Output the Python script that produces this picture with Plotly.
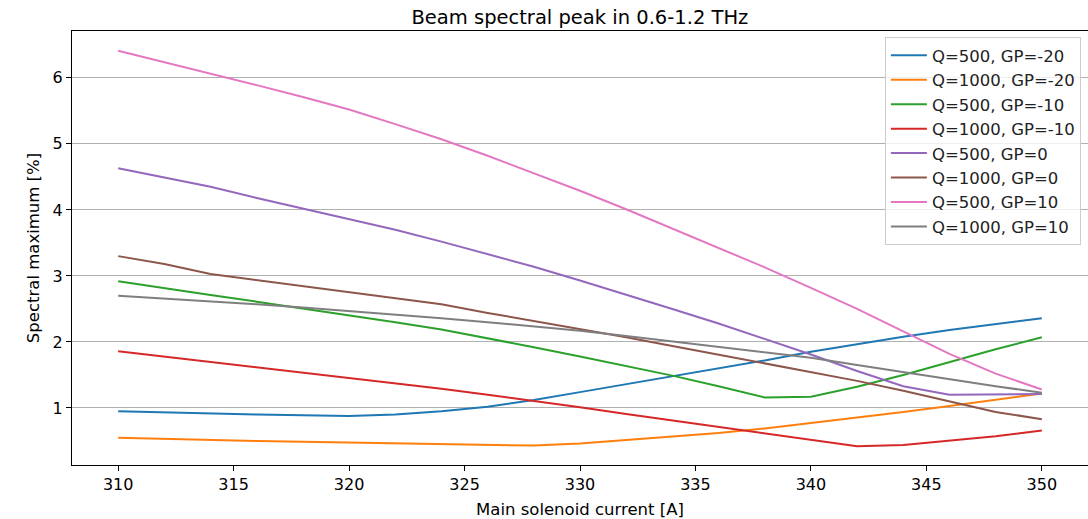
import plotly.graph_objects as go

# Main solenoid current [A]
current = [310, 312, 314, 316, 318, 320, 322, 324, 326, 328, 330,
           332, 334, 336, 338, 340, 342, 344, 346, 348, 350]

# Spectral maximum [%] per (bunch charge Q, gun phase GP)
q500_gpm20 = [0.95, 0.93, 0.92, 0.90, 0.89, 0.88, 0.90, 0.95, 1.02, 1.12, 1.24,
              1.36, 1.47, 1.59, 1.72, 1.85, 1.97, 2.08, 2.18, 2.27, 2.36]
q1000_gpm20 = [0.55, 0.53, 0.52, 0.50, 0.49, 0.48, 0.47, 0.45, 0.44, 0.43, 0.46,
               0.51, 0.56, 0.62, 0.69, 0.77, 0.85, 0.94, 1.03, 1.13, 1.22]
q500_gpm10 = [2.92, 2.81, 2.71, 2.61, 2.51, 2.41, 2.30, 2.19, 2.06, 1.92, 1.78,
              1.64, 1.49, 1.33, 1.16, 1.17, 1.32, 1.50, 1.70, 1.89, 2.07]
q1000_gpm10 = [1.86, 1.78, 1.70, 1.62, 1.54, 1.46, 1.38, 1.29, 1.20, 1.11, 1.01,
               0.91, 0.81, 0.71, 0.61, 0.51, 0.42, 0.44, 0.50, 0.57, 0.66]
q500_gp0 = [4.63, 4.49, 4.35, 4.18, 4.02, 3.86, 3.70, 3.52, 3.33, 3.14, 2.93,
            2.72, 2.50, 2.28, 2.05, 1.81, 1.56, 1.33, 1.20, 1.21, 1.21]
q1000_gp0 = [3.30, 3.18, 3.03, 2.94, 2.85, 2.75, 2.66, 2.57, 2.44, 2.32, 2.20,
             2.07, 1.94, 1.81, 1.68, 1.54, 1.41, 1.26, 1.10, 0.94, 0.83]
q500_gp10 = [6.41, 6.24, 6.06, 5.89, 5.71, 5.52, 5.30, 5.07, 4.82, 4.56, 4.29,
             4.01, 3.72, 3.43, 3.13, 2.82, 2.50, 2.16, 1.82, 1.52, 1.28]
q1000_gp10 = [2.70, 2.66, 2.61, 2.57, 2.52, 2.47, 2.42, 2.36, 2.30, 2.24, 2.17,
              2.09, 2.01, 1.93, 1.85, 1.76, 1.65, 1.54, 1.43, 1.33, 1.23]

series_names = ["Q=500, GP=-20", "Q=1000, GP=-20", "Q=500, GP=-10", "Q=1000, GP=-10",
                "Q=500, GP=0", "Q=1000, GP=0", "Q=500, GP=10", "Q=1000, GP=10"]
series_values = [q500_gpm20, q1000_gpm20, q500_gpm10, q1000_gpm10,
                 q500_gp0, q1000_gp0, q500_gp10, q1000_gp10]
colors = ["#1f77b4", "#ff7f0e", "#2ca02c", "#d62728",
          "#9467bd", "#8c564b", "#e377c2", "#7f7f7f"]

x_ticks = [310, 315, 320, 325, 330, 335, 340, 345, 350]
y_ticks = [1, 2, 3, 4, 5, 6]

font_family = "DejaVu Sans, sans-serif"

fig = go.Figure()
for name, vals, col in zip(series_names, series_values, colors):
    fig.add_trace(go.Scatter(x=current, y=vals, mode="lines", name=name,
                             line=dict(color=col, width=2)))

fig.update_layout(
    width=1088, height=519,
    margin=dict(l=72, r=0, t=31, b=54),
    paper_bgcolor="white", plot_bgcolor="white",
    font=dict(family=font_family, size=16, color="black"),
    title=dict(text="Beam spectral peak in 0.6-1.2 THz", x=0.533, xanchor="center",
               y=0.967, yanchor="middle", font=dict(size=19.5, color="black")),
    legend=dict(x=0.993, y=0.986, xanchor="right", yanchor="top",
                bgcolor="rgba(255,255,255,0.8)", bordercolor="#cccccc", borderwidth=1,
                font=dict(size=16.5, color="#222222"), tracegroupgap=0,
                itemwidth=36),
    showlegend=True,
)

fig.update_xaxes(
    range=[308, 352], tickvals=x_ticks, ticktext=[str(v) for v in x_ticks],
    showgrid=False, zeroline=False,
    showline=True, linecolor="black", linewidth=1.2, mirror=True,
    ticks="outside", ticklen=5, tickcolor="black", tickwidth=1,
    tickfont=dict(size=16),
    title=dict(text="Main solenoid current [A]", font=dict(size=16.5), standoff=10),
)
fig.update_yaxes(
    range=[0.136, 6.71], tickvals=y_ticks, ticktext=[str(v) for v in y_ticks],
    showgrid=True, gridcolor="#b0b0b0", gridwidth=1, zeroline=False,
    showline=True, linecolor="black", linewidth=1.2, mirror=True,
    ticks="outside", ticklen=5, tickcolor="black", tickwidth=1,
    tickfont=dict(size=16),
    title=dict(text="Spectral maximum [%]", font=dict(size=16.5), standoff=8),
)

fig.write_html("out.html")
